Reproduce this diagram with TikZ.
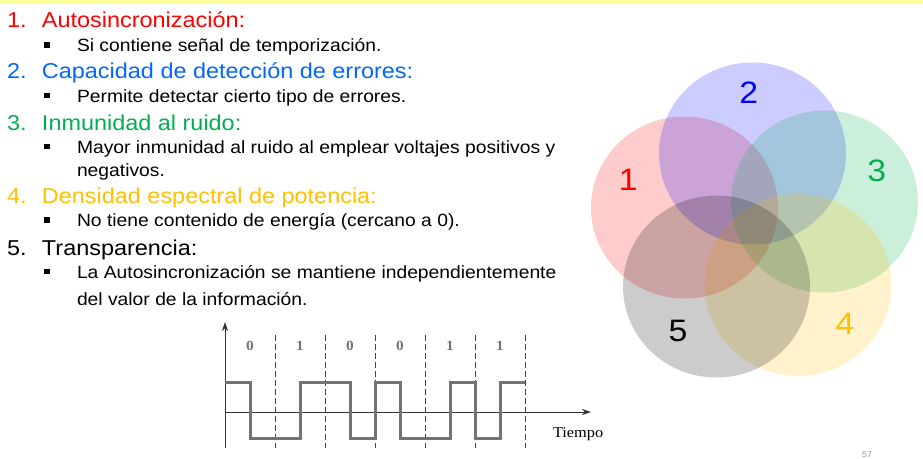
\documentclass[tikz,border=0pt]{standalone}
\usepackage{fontspec}
\setmainfont[FakeStretch=1.09]{Liberation Sans}
\newfontfamily\tiempofont[FakeStretch=1.09]{Liberation Serif}
\usetikzlibrary{arrows.meta}

\definecolor{barYellow}{RGB}{255,255,153}
\definecolor{hdRed}{RGB}{255,0,0}
\definecolor{hdBlue}{RGB}{0,102,255}
\definecolor{hdGreen}{RGB}{0,176,80}
\definecolor{hdGold}{RGB}{255,192,0}
\definecolor{vnBlue}{RGB}{0,0,255}

\newcommand{\sqb}{\makebox[33pt][l]{\raisebox{4pt}{\rule{5.5pt}{5.5pt}}}}
\newcommand{\hnum}[1]{\makebox[35pt][l]{#1}}

\begin{document}
\begin{tikzpicture}[
    x=1pt, y=-1pt,
    every node/.style={inner sep=0pt, outer sep=0pt},
    hd/.style={anchor=base west, font=\fontsize{21.5}{25}\selectfont},
    bl/.style={anchor=base west, font=\fontsize{17.7}{21}\selectfont},
    ring/.style={fill opacity=0.2, draw=none},
    num/.style={font=\fontsize{31}{36}\selectfont},
    ax/.style={draw=black!80, line width=0.8pt, -{Stealth[length=9pt, width=6pt]}},
    slot/.style={draw=black!75, line width=0.7pt, dash pattern=on 6pt off 3pt},
    bit/.style={font={\fontsize{14}{16}\tiempofont\bfseries}, text=black!55},
    wave/.style={draw=black!55, line width=3pt, line join=miter},
  ]
  \useasboundingbox (0,0) rectangle (923,458);
  \fill[barYellow] (0,0) rectangle (923,3.5);

  \node[hd, text=hdRed] (h1) at (7,27.3) {\hnum{1.}Autosincronización:};
  \node[bl] (b1) at (44,51.7) {\sqb Si contiene señal de temporización.};
  \node[hd, text=hdBlue] (h2) at (7,78.7) {\hnum{2.}Capacidad de detección de errores:};
  \node[bl] (b2) at (44,102) {\sqb Permite detectar cierto tipo de errores.};
  \node[hd, text=hdGreen] (h3) at (7,130) {\hnum{3.}Inmunidad al ruido:};
  \node[bl] (b3) at (44,153.3) {\sqb Mayor inmunidad al ruido al emplear voltajes positivos y};
  \node[bl] (b3b) at (77,176.7) {negativos.};
  \node[hd, text=hdGold] (h4) at (7,203.3) {\hnum{4.}Densidad espectral de potencia:};
  \node[bl] (b4) at (44,226.7) {\sqb No tiene contenido de energía (cercano a 0).};
  \node[hd] (h5) at (7,255.7) {\hnum{5.}Transparencia:};
  \node[bl] (b5) at (44,278.3) {\sqb La Autosincronización se mantiene independientemente};
  \node[bl] (b5b) at (77,305) {del valor de la información.};

  \path[ring, fill=hdRed] (684.5,207.5) ellipse [x radius=93.5, y radius=91];
  \path[ring, fill=vnBlue] (752.5,153.5) ellipse [x radius=93.5, y radius=91];
  \path[ring, fill=hdGreen] (824.5,201.5) ellipse [x radius=93.5, y radius=91];
  \path[ring, fill=hdGold] (798,285) ellipse [x radius=93.5, y radius=91];
  \path[ring, fill=black] (716.5,286.5) ellipse [x radius=93.5, y radius=91];
  \node[num, text=hdRed] (v1) at (628.3,179.5) {1};
  \node[num, text=vnBlue] (v2) at (748.7,93) {2};
  \node[num, text=hdGreen] (v3) at (876.7,170.5) {3};
  \node[num, text=hdGold] (v4) at (845,324) {4};
  \node[num] (v5) at (678,330.8) {5};

  \coordinate (o) at (225,412);
  \coordinate (ybot) at (225,448);
  \coordinate (ytop) at (225,322);
  \coordinate (xend) at (591,412);
  \draw[ax] (ybot) -- (ytop);
  \draw[ax] (o) -- (xend);
  \coordinate (s1a) at (275,335); \coordinate (s1b) at (275,448);
  \coordinate (s2a) at (325,335); \coordinate (s2b) at (325,448);
  \coordinate (s3a) at (375,335); \coordinate (s3b) at (375,448);
  \coordinate (s4a) at (425,335); \coordinate (s4b) at (425,448);
  \coordinate (s5a) at (475,335); \coordinate (s5b) at (475,448);
  \coordinate (s6a) at (525,335); \coordinate (s6b) at (525,448);
  \draw[slot] (s1a) -- (s1b);
  \draw[slot] (s2a) -- (s2b);
  \draw[slot] (s3a) -- (s3b);
  \draw[slot] (s4a) -- (s4b);
  \draw[slot] (s5a) -- (s5b);
  \draw[slot] (s6a) -- (s6b);
  \node[bit] (d1) at (250,345.5) {0};
  \node[bit] (d2) at (300,345.5) {1};
  \node[bit] (d3) at (350,345.5) {0};
  \node[bit] (d4) at (400,345.5) {0};
  \node[bit] (d5) at (450,345.5) {1};
  \node[bit] (d6) at (500,345.5) {1};
  \draw[wave] (225,382) -- (250,382) -- (250,438) -- (300,438) -- (300,382)
    -- (350,382) -- (350,438) -- (375,438) -- (375,382) -- (400,382)
    -- (400,438) -- (450,438) -- (450,382) -- (475,382) -- (475,438)
    -- (500,438) -- (500,382) -- (525,382);
  \node[font={\fontsize{15}{18}\tiempofont}, anchor=west] (tiempo) at (553,434) {Tiempo};

  \node[font=\fontsize{8}{9}\selectfont, text=black!45] (pg) at (867,455) {57};
\end{tikzpicture}
\end{document}
